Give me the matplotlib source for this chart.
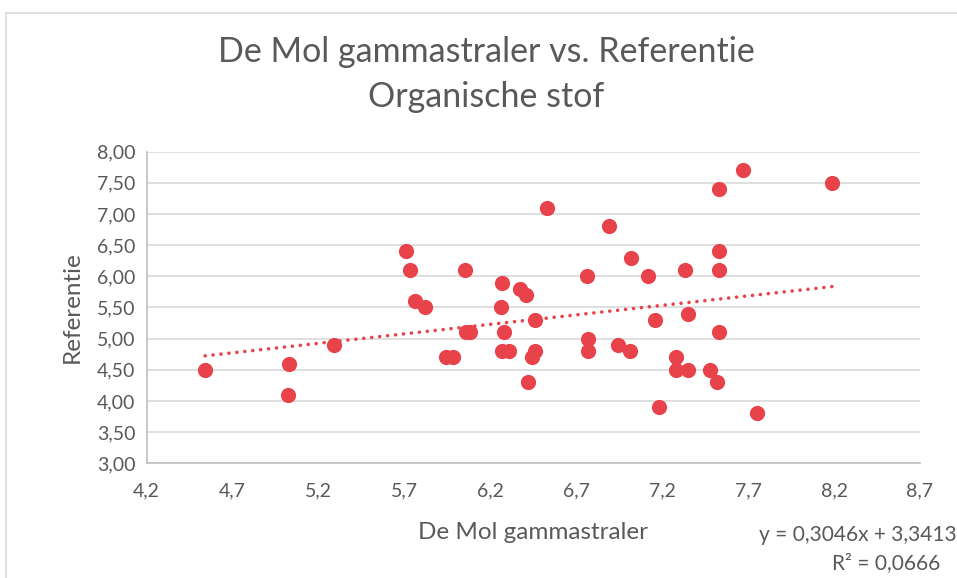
import matplotlib
matplotlib.use("Agg")
import matplotlib.pyplot as plt
from matplotlib.ticker import FuncFormatter, MultipleLocator
from matplotlib.patches import Rectangle

# Data
de_mol = [4.54, 5.03, 5.02, 5.29, 5.71, 5.73, 5.76, 5.82, 5.94, 5.98,
          6.05, 6.06, 6.08, 6.27, 6.26, 6.28, 6.27, 6.31, 6.37, 6.41,
          6.46, 6.46, 6.44, 6.42, 6.53, 6.76, 6.77, 6.77, 6.89, 6.94,
          7.02, 7.01, 7.12, 7.16, 7.18, 7.28, 7.28, 7.33, 7.35, 7.35,
          7.48, 7.53, 7.53, 7.53, 7.53, 7.52, 7.67, 7.75, 8.19]
referentie = [4.50, 4.60, 4.10, 4.90, 6.40, 6.10, 5.60, 5.50, 4.70, 4.70,
              6.10, 5.10, 5.10, 5.90, 5.50, 5.10, 4.80, 4.80, 5.80, 5.70,
              5.30, 4.80, 4.70, 4.30, 7.10, 6.00, 5.00, 4.80, 6.80, 4.90,
              6.30, 4.80, 6.00, 5.30, 3.90, 4.70, 4.50, 6.10, 5.40, 4.50,
              4.50, 7.40, 6.40, 6.10, 5.10, 4.30, 7.70, 3.80, 7.50]
trend_slope = 0.3046
trend_intercept = 3.3413
r_squared = 0.0666
x_ticks = [4.2, 4.7, 5.2, 5.7, 6.2, 6.7, 7.2, 7.7, 8.2, 8.7]
title_lines = ["De Mol gammastraler vs. Referentie", "Organische stof"]

plt.rcParams['font.family'] = ['Lato', 'DejaVu Sans']
text_color = '#595959'
red = '#E8434A'

fig = plt.figure(figsize=(9.57, 5.78), dpi=100)
W, H = 957, 578
ax = fig.add_axes([146.7 / W, 1 - 463.3 / H, (920 - 146.7) / W, (463.3 - 151.7) / H])

ax.scatter(de_mol, referentie, s=120, color=red, zorder=3, linewidths=0)

xmin, xmax = min(de_mol), max(de_mol)
ax.plot([xmin, xmax], [trend_slope * xmin + trend_intercept, trend_slope * xmax + trend_intercept],
        color=red, linestyle=(0, (0.01, 2.2)), linewidth=2.6, dash_capstyle='round', zorder=2)

ax.set_xlim(4.2, 8.7)
ax.set_ylim(3.0, 8.0)
ax.set_xticks(x_ticks)
ax.yaxis.set_major_locator(MultipleLocator(0.5))
ax.xaxis.set_major_formatter(FuncFormatter(lambda v, p: f"{v:.1f}".replace('.', ',')))
ax.yaxis.set_major_formatter(FuncFormatter(lambda v, p: f"{v:.2f}".replace('.', ',')))
ax.grid(axis='y', color='#D9D9D9', linewidth=1.2)
ax.set_axisbelow(True)
for s in ['top', 'right']:
    ax.spines[s].set_visible(False)
ax.spines['bottom'].set_color('#BFBFBF')
ax.spines['left'].set_color('#BFBFBF')
ax.spines['bottom'].set_linewidth(1.2)
ax.spines['left'].set_linewidth(1.2)
ax.tick_params(length=0, colors=text_color, labelsize=14, pad=8)
ax.tick_params(axis='x', pad=14)

ax.set_xlabel("De Mol gammastraler", color=text_color, fontsize=17.5, labelpad=16)
ax.set_ylabel("Referentie", color=text_color, fontsize=17.5, labelpad=10)

cx = 486 / W
fig.text(cx, 1 - 52 / H, title_lines[0], ha='center', va='center',
         fontsize=24.5, color=text_color)
fig.text(cx, 1 - 97 / H, title_lines[1], ha='center', va='center',
         fontsize=24.5, color=text_color)

eq = f"y = {trend_slope:.4f}x + {trend_intercept:.4f}".replace('.', ',')
r2 = f"R² = {r_squared:.4f}".replace('.', ',')
fig.text(957 / W, 1 - 535 / H, eq, ha='right', va='center', fontsize=15, color=text_color)
fig.text(940 / W, 1 - 563 / H, r2, ha='right', va='center', fontsize=15, color=text_color)

fig.patches.append(Rectangle((6 / W, -0.1), 1.2, 1.1 - 13 / H, transform=fig.transFigure,
                             fill=False, edgecolor='#D9D9D9', linewidth=1.2))

fig.savefig("out.png", dpi=100)
